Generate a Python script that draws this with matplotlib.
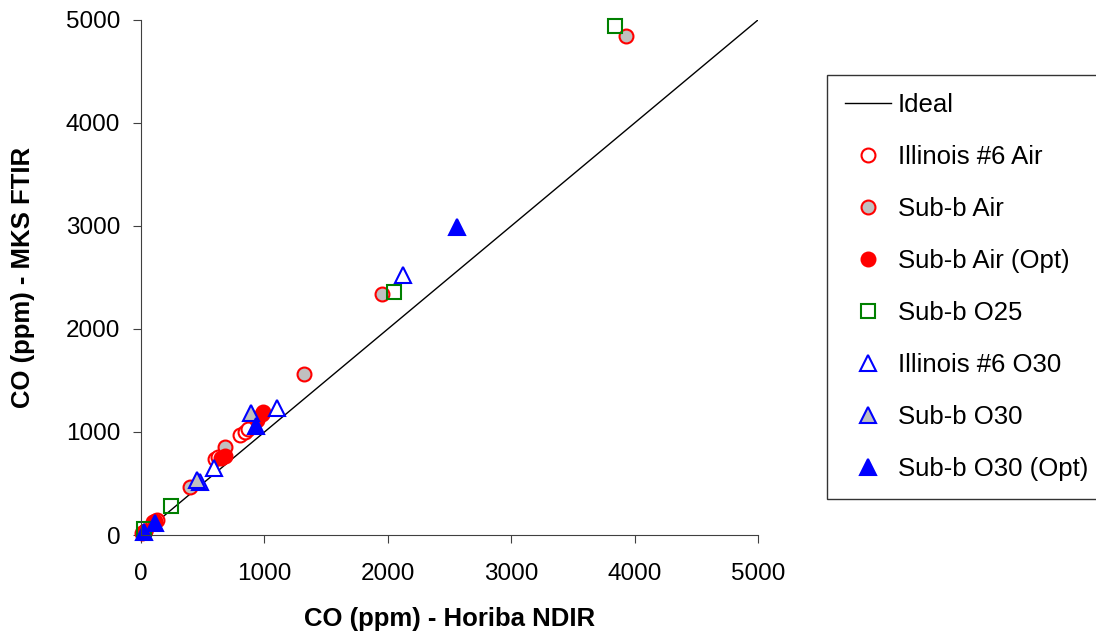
import numpy as np
import matplotlib
matplotlib.use("Agg")
import matplotlib.pyplot as plt

# Horiba NDIR (x) vs MKS FTIR (y), CO in ppm
ill6_air_x = [10, 30, 100, 130, 600, 620, 800, 840, 870]
ill6_air_y = [15, 40, 130, 150, 740, 760, 970, 1000, 1030]

subb_air_x = [20, 400, 680, 1320, 1950, 3930]
subb_air_y = [30, 465, 850, 1565, 2340, 4840]

subb_air_opt_x = [30, 110, 650, 680, 940, 980, 990]
subb_air_opt_y = [40, 140, 750, 770, 1120, 1170, 1190]

subb_o25_x = [20, 240, 2050, 3840]
subb_o25_y = [60, 285, 2360, 4940]

ill6_o30_x = [480, 590, 1100, 2120]
ill6_o30_y = [515, 650, 1230, 2520]

subb_o30_x = [450, 890]
subb_o30_y = [530, 1180]

subb_o30_opt_x = [20, 110, 930, 2560]
subb_o30_opt_y = [30, 120, 1060, 2990]

ideal = [0, 5000]

plt.rcParams['font.family'] = ['Liberation Sans', 'DejaVu Sans']

fig = plt.figure(figsize=(10.96, 6.36), dpi=100)
ax = fig.add_axes([0.1287, 0.1588, 0.5629, 0.8098])

ax.plot(ideal, ideal, color='black', lw=1, label='Ideal')

ms = 10
tms = 12
ax.plot(ill6_air_x, ill6_air_y, 'o', ls='none', ms=ms, mfc='white', mec='red', mew=1.5,
        label='Illinois #6 Air', clip_on=False)
ax.plot(subb_air_x, subb_air_y, 'o', ls='none', ms=ms, mfc='#c0c0c0', mec='red', mew=1.5,
        label='Sub-b Air', clip_on=False)
ax.plot(subb_air_opt_x, subb_air_opt_y, 'o', ls='none', ms=ms, mfc='red', mec='red', mew=1.5,
        label='Sub-b Air (Opt)', clip_on=False)
ax.plot(subb_o25_x, subb_o25_y, 's', ls='none', ms=ms, mfc='none', mec='green', mew=1.5,
        label='Sub-b O25', clip_on=False)
ax.plot(ill6_o30_x, ill6_o30_y, '^', ls='none', ms=tms, mfc='white', mec='blue', mew=1.5,
        label='Illinois #6 O30', clip_on=False)
ax.plot(subb_o30_x, subb_o30_y, '^', ls='none', ms=tms, mfc='#c0c0c0', mec='blue', mew=1.5,
        label='Sub-b O30', clip_on=False)
ax.plot(subb_o30_opt_x, subb_o30_opt_y, '^', ls='none', ms=tms, mfc='blue', mec='blue', mew=1.5,
        label='Sub-b O30 (Opt)', clip_on=False)

ax.set_xlim(0, 5000)
ax.set_ylim(0, 5000)
ax.set_xticks(np.arange(0, 5001, 1000))
ax.set_yticks(np.arange(0, 5001, 1000))
ax.tick_params(labelsize=17.5, direction='out', length=6, color='#404040')
ax.tick_params(axis='x', pad=14)
ax.tick_params(axis='y', pad=9)
for s in ['top', 'right']:
    ax.spines[s].set_visible(False)
for s in ['left', 'bottom']:
    ax.spines[s].set_color('#404040')

ax.set_xlabel('CO (ppm) - Horiba NDIR', fontsize=18.5, fontweight='bold', labelpad=16)
ax.set_ylabel('CO (ppm) - MKS FTIR', fontsize=18.5, fontweight='bold', labelpad=22)

leg = fig.legend(loc='upper left', bbox_to_anchor=(0.7546, 0.882), fontsize=18.5,
                 frameon=True, fancybox=False, edgecolor='black', handlelength=1.8,
                 labelspacing=1.09, borderpad=0.7, handletextpad=0.25, borderaxespad=0)
leg.get_frame().set_linewidth(1)

fig.savefig('out.png', dpi=100)
